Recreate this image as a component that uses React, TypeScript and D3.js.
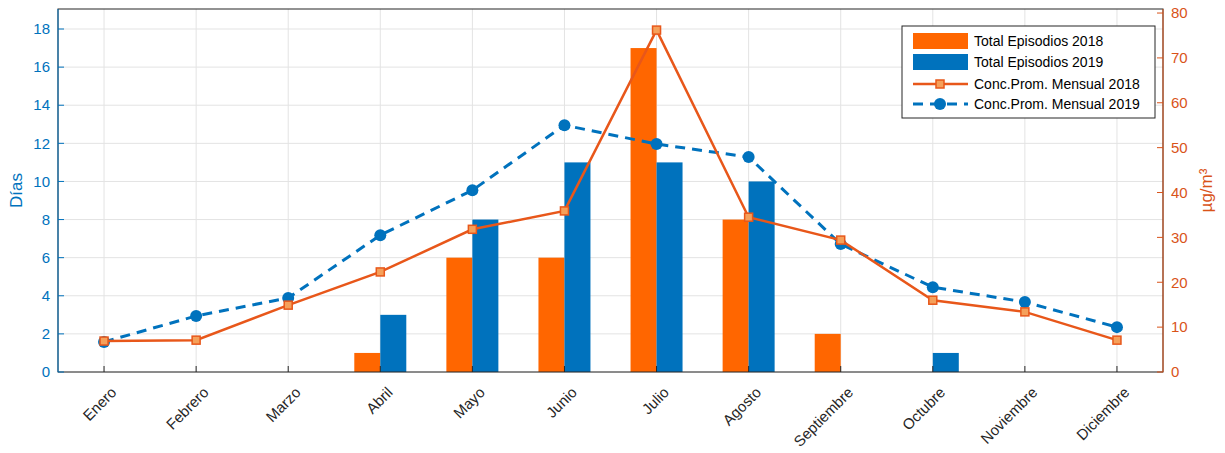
import React from 'react';
import * as d3 from 'd3';

const months = ['Enero', 'Febrero', 'Marzo', 'Abril', 'Mayo', 'Junio', 'Julio', 'Agosto', 'Septiembre', 'Octubre', 'Noviembre', 'Diciembre'];
const episodes2018 = [0, 0, 0, 1, 6, 6, 17, 8, 2, 0, 0, 0];
const episodes2019 = [0, 0, 0, 3, 8, 11, 11, 10, 0, 1, 0, 0];
const conc2018 = [6.9, 7.1, 14.9, 22.3, 31.8, 35.9, 76.2, 34.5, 29.4, 16.0, 13.4, 7.1];
const conc2019 = [6.7, 12.5, 16.5, 30.5, 40.5, 55.0, 50.8, 47.9, 28.5, 18.9, 15.6, 10.0];
const leftTicks = [0, 2, 4, 6, 8, 10, 12, 14, 16, 18];
const rightTicks = [0, 10, 20, 30, 40, 50, 60, 70, 80];

const W = 1225, H = 453;
const m = { left: 58, right: 1163, top: 9, bottom: 372 };
const blue = '#0072BD', orange = '#FF6600', lineOr = '#E8571A', axisOr = '#D95319';
const font = 'Helvetica, Arial, "Liberation Sans", sans-serif';

export default function App() {
  const x = d3.scaleBand().domain(months).range([m.left, m.right]);
  const yL = d3.scaleLinear().domain([0, 19.05]).range([m.bottom, m.top]);
  const yR = d3.scaleLinear().domain([0, 80.9]).range([m.bottom, m.top]);
  const cx = (i: number) => x(months[i])! + x.bandwidth() / 2;
  const bw = 26;
  const line = d3.line<number>().x((_, i) => cx(i)).y(d => yR(d));

  return (
    <svg width={W} height={H} style={{ position: 'absolute', left: 0, top: 0, fontFamily: font }}>
      <rect x={0} y={0} width={W} height={H} fill="#fff" />
      <g stroke="#e3e3e3" strokeWidth={1}>
        {months.map((_, i) => <line key={i} x1={cx(i)} x2={cx(i)} y1={m.top} y2={m.bottom} />)}
        {leftTicks.map(t => <line key={t} x1={m.left} x2={m.right} y1={yL(t)} y2={yL(t)} />)}
      </g>
      {episodes2018.map((v, i) => v > 0 && (
        <rect key={'a' + i} x={cx(i) - bw} y={yL(v)} width={bw} height={yL(0) - yL(v)} fill={orange} />
      ))}
      {episodes2019.map((v, i) => v > 0 && (
        <rect key={'b' + i} x={cx(i)} y={yL(v)} width={bw} height={yL(0) - yL(v)} fill={blue} />
      ))}
      <path d={line(conc2019)!} fill="none" stroke={blue} strokeWidth={3} strokeDasharray="10,7" />
      {conc2019.map((v, i) => <circle key={i} cx={cx(i)} cy={yR(v)} r={6} fill={blue} />)}
      <path d={line(conc2018)!} fill="none" stroke={lineOr} strokeWidth={2.5} />
      {conc2018.map((v, i) => <rect key={i} x={cx(i) - 4} y={yR(v) - 4} width={8} height={8} fill="#F5A05A" stroke={lineOr} strokeWidth={1.5} />)}
      <rect x={m.left} y={m.top} width={m.right - m.left} height={m.bottom - m.top} fill="none" stroke="#262626" strokeWidth={1} />
      {/* left axis */}
      <line x1={m.left} x2={m.left} y1={m.top} y2={m.bottom} stroke={blue} />
      {leftTicks.map(t => (
        <g key={t}>
          <line x1={m.left} x2={m.left + 6} y1={yL(t)} y2={yL(t)} stroke={blue} />
          <text x={m.left - 8} y={yL(t)} dy="0.35em" textAnchor="end" fontSize={15} fill={blue}>{t}</text>
        </g>
      ))}
      <text transform={`translate(22,${(m.top + m.bottom) / 2}) rotate(-90)`} textAnchor="middle" fontSize={17} fill={blue}>Días</text>
      {/* right axis */}
      <line x1={m.right} x2={m.right} y1={m.top} y2={m.bottom} stroke={axisOr} />
      {rightTicks.map(t => (
        <g key={t}>
          <line x1={m.right - 6} x2={m.right} y1={yR(t)} y2={yR(t)} stroke={axisOr} />
          <text x={m.right + 8} y={yR(t)} dy="0.35em" fontSize={15} fill={axisOr}>{t}</text>
        </g>
      ))}
      <text transform={`translate(1212,${(m.top + m.bottom) / 2}) rotate(-90)`} textAnchor="middle" fontSize={17} fill={axisOr}>µg/m³</text>
      {/* x axis */}
      {months.map((mo, i) => (
        <g key={mo}>
          <line x1={cx(i)} x2={cx(i)} y1={m.bottom} y2={m.bottom - 6} stroke="#262626" />
          <text transform={`translate(${cx(i) + 6},${m.bottom + 14}) rotate(-45)`} textAnchor="end" dy="0.7em" fontSize={15} fill="#262626">{mo}</text>
        </g>
      ))}
      {/* legend */}
      <g fontSize={14} fill="#000">
        <rect x={902} y={26} width={253} height={92} fill="#fff" stroke="#262626" />
        <rect x={913} y={33} width={55} height={16} fill={orange} />
        <text x={974} y={41} dy="0.35em">Total Episodios 2018</text>
        <rect x={913} y={54} width={55} height={16} fill={blue} />
        <text x={974} y={62} dy="0.35em">Total Episodios 2019</text>
        <line x1={913} x2={968} y1={84} y2={84} stroke={lineOr} strokeWidth={2.5} />
        <rect x={936} y={80} width={8} height={8} fill="#F5A05A" stroke={lineOr} strokeWidth={1.5} />
        <text x={974} y={84} dy="0.35em">Conc.Prom. Mensual 2018</text>
        <line x1={913} x2={968} y1={104} y2={104} stroke={blue} strokeWidth={3} strokeDasharray="10,7" />
        <circle cx={940} cy={104} r={6} fill={blue} />
        <text x={974} y={104} dy="0.35em">Conc.Prom. Mensual 2019</text>
      </g>
    </svg>
  );
}
